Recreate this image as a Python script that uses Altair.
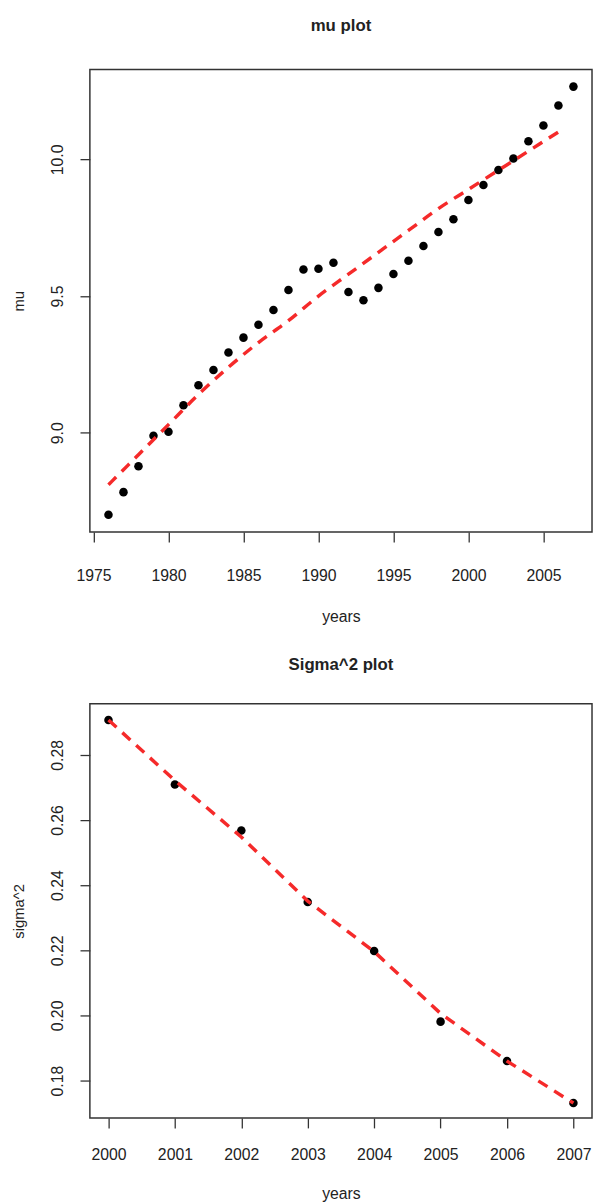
import altair as alt
import pandas as pd

# ---- data ----
mu_years = [1976, 1977, 1978, 1979, 1980, 1981, 1982, 1983, 1984, 1985, 1986,
            1987, 1988, 1989, 1990, 1991, 1992, 1993, 1994, 1995, 1996, 1997,
            1998, 1999, 2000, 2001, 2002, 2003, 2004, 2005, 2006, 2007]
mu_values = [8.700, 8.783, 8.878, 8.989, 9.004, 9.101, 9.174, 9.230, 9.294,
             9.348, 9.395, 9.449, 9.522, 9.597, 9.600, 9.622, 9.515, 9.485,
             9.530, 9.581, 9.629, 9.683, 9.734, 9.781, 9.851, 9.906, 9.961,
             10.003, 10.066, 10.124, 10.197, 10.266]

mu_fit_years = [1976, 1978, 1980, 1982, 1984, 1986, 1988, 1990, 1992, 1994,
                1996, 1998, 2000, 2002, 2004, 2006]
mu_fit_values = [8.81, 8.92, 9.03, 9.14, 9.24, 9.33, 9.41, 9.50, 9.58, 9.66,
                 9.74, 9.82, 9.89, 9.96, 10.03, 10.10]

sig_years = [2000, 2001, 2002, 2003, 2004, 2005, 2006, 2007]
sig_values = [0.2907, 0.2709, 0.2568, 0.2348, 0.2198, 0.1981, 0.1860, 0.1731]
sig_fit_values = [0.2907, 0.2721, 0.2548, 0.2351, 0.2196, 0.2006, 0.1860, 0.1731]

mu_ticks = [1975, 1980, 1985, 1990, 1995, 2000, 2005]
mu_yticks = [9.0, 9.5, 10.0]
sig_yticks = [0.18, 0.20, 0.22, 0.24, 0.26, 0.28]

FONT = "Liberation Sans"
TXT = "#222222"
RED = "#f52a2a"

mu_df = pd.DataFrame({"year": mu_years, "mu": mu_values})
mu_fit_df = pd.DataFrame({"year": mu_fit_years, "mu": mu_fit_values})
sig_df = pd.DataFrame({"year": sig_years, "s": sig_values, "fit": sig_fit_values})


def xaxis(values, fmt, pad, tpad):
    return alt.Axis(values=values, format=fmt, title="years", grid=False,
                    domain=False, tickSize=10, tickWidth=1.3, tickColor="#333333",
                    labelFontSize=16, labelColor=TXT, labelFont=FONT,
                    labelPadding=pad, labelFlush=False, labelOverlap=False,
                    titleFont=FONT, titleFontSize=16, titleFontWeight="normal",
                    titleColor=TXT, titlePadding=tpad)


def yaxis(values, fmt, title):
    return alt.Axis(values=values, format=fmt, title=title, grid=False,
                    domain=False, tickSize=10, tickWidth=1.3, tickColor="#333333",
                    labelFontSize=16, labelColor=TXT, labelFont=FONT,
                    labelAngle=270, labelAlign="center", labelBaseline="bottom",
                    labelPadding=15, labelFlush=False, labelOverlap=False,
                    titleFont=FONT, titleFontSize=15, titleFontWeight="normal",
                    titleColor=TXT, titlePadding=23)


mu_x = alt.X("year:Q", scale=alt.Scale(domain=[1974.76, 2008.24], nice=False, zero=False),
             axis=xaxis(mu_ticks, "d", 26, 26))
mu_y = alt.Y("mu:Q", scale=alt.Scale(domain=[8.637, 10.329], nice=False, zero=False),
             axis=yaxis(mu_yticks, ".1f", "mu"))

mu_pts = alt.Chart(mu_df).mark_circle(size=75, color="black", opacity=1).encode(x=mu_x, y=mu_y)
mu_line = alt.Chart(mu_fit_df).mark_line(color=RED, strokeWidth=3.5, strokeDash=[11, 8],
                                         interpolate="monotone").encode(x="year:Q", y="mu:Q")

top = alt.layer(mu_pts, mu_line).properties(
    width=509, height=469,
    title=alt.TitleParams("mu plot", font=FONT, fontSize=17, fontWeight="bold",
                          color=TXT, anchor="middle", frame="group", offset=35))

sig_x = alt.X("year:Q", scale=alt.Scale(domain=[1999.72, 2007.28], nice=False, zero=False),
              axis=xaxis(sig_years, "d", 19, 24))
sig_y = alt.Y("s:Q", scale=alt.Scale(domain=[0.1685, 0.2957], nice=False, zero=False),
              axis=yaxis(sig_yticks, ".2f", "sigma^2"))

sig_pts = alt.Chart(sig_df).mark_circle(size=75, color="black", opacity=1).encode(x=sig_x, y=sig_y)
sig_line = alt.Chart(sig_df).mark_line(color=RED, strokeWidth=3.5, strokeDash=[11, 8]).encode(
    x="year:Q", y="fit:Q")

bottom = alt.layer(sig_pts, sig_line).properties(
    width=509, height=420,
    title=alt.TitleParams("Sigma^2 plot", font=FONT, fontSize=17, fontWeight="bold",
                          color=TXT, anchor="middle", frame="group", offset=30))

chart = alt.vconcat(top, bottom, spacing=30).properties(
    padding={"left": 3, "right": 0, "top": 0, "bottom": 0},
    background="white"
).configure_view(stroke="#333333", strokeWidth=1.5)

chart.save("out.html", embed_options={"renderer": "svg", "actions": False})
